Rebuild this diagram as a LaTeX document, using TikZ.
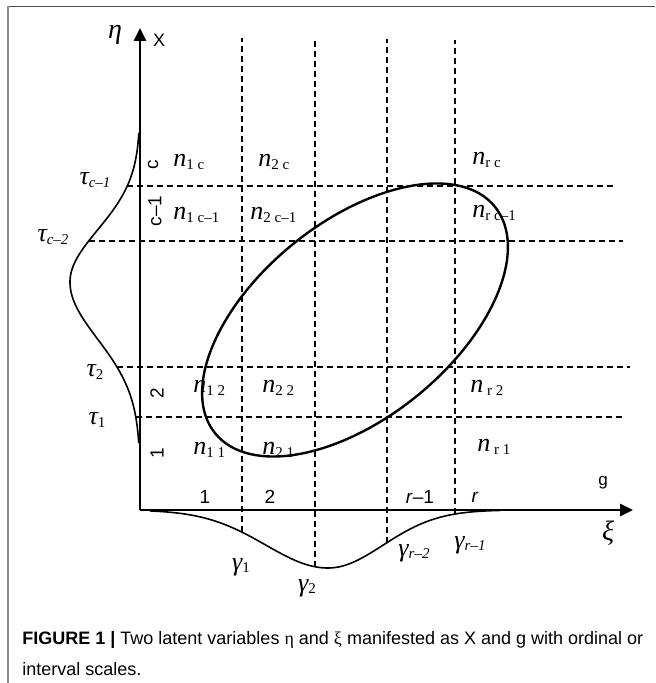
\documentclass[tikz,border=0pt]{standalone}
\usepackage{fontspec}
\setmainfont{Liberation Sans}
\newfontfamily\tms{Liberation Serif}
\usetikzlibrary{arrows.meta}

% italic serif symbol with a small lowered index
\newcommand{\idx}[2]{{\tms\itshape #1}\raisebox{-1.3pt}{\fontsize{7.5}{8}\selectfont\tms #2}}

\begin{document}
\begin{tikzpicture}[
    x=0.5pt, y=0.5pt,
    declare function={
      etaU(\t)=140-70*exp(-0.5*((\t-401)/52)*((\t-401)/52));
      etaL(\t)=140-70*exp(-0.5*((\t-401)/57)*((\t-401)/57));
      xiL(\s)=173-58*exp(-0.5*((\s-328)/62)*((\s-328)/62));
      xiR(\s)=173-58*exp(-0.5*((\s-328)/55)*((\s-328)/55));
    },
    axis/.style={line width=1.4pt, -{Triangle[length=6.5pt,width=6pt]}},
    cut/.style={line width=0.55pt, dash pattern=on 3pt off 2pt},
    dens/.style={line width=0.8pt},
    cell/.style={font=\fontsize{13}{14}\selectfont, inner sep=0pt, anchor=base west},
    thr/.style={font=\fontsize{13}{14}\selectfont, inner sep=0pt},
    catlab/.style={font=\fontsize{9.5}{11}\selectfont, inner sep=0pt},
    caption/.style={font=\fontsize{9}{11}\selectfont, inner sep=0pt, anchor=base west}
]
\useasboundingbox (0,0) rectangle (655,683);

% frame
\draw[black!70, line width=0.8pt] (8,676.5) -- (655,676.5);
\draw[black!45, line width=1pt] (7.8,0) -- (7.8,676.5);

% axes
\coordinate (O) at (140,173);
\coordinate (ytop) at (140,655);
\coordinate (xend) at (633,173);
\draw[axis] (O) -- (ytop);
\draw[axis] (O) -- (xend);

% latent densities
\draw[dens] plot[domain=550:401, samples=60, variable=\t] ({etaU(\t)}, \t)
         -- plot[domain=401:240, samples=60, variable=\t] ({etaL(\t)}, \t);
\draw[dens] plot[domain=150:328, samples=60, variable=\s] (\s, {xiL(\s)})
         -- plot[domain=328:500, samples=60, variable=\s] (\s, {xiR(\s)});

% thresholds
\coordinate (tau1) at ({etaL(266)},266);
\coordinate (tau2) at ({etaL(316)},316);
\coordinate (tauc2) at ({etaU(442)},442);
\coordinate (tauc1) at ({etaU(497)},497);
\coordinate (gam1) at (242,{xiL(242)});
\coordinate (gam2) at (315,{xiL(315)});
\coordinate (gamr2) at (387,{xiR(387)});
\coordinate (gamr1) at (455,{xiR(455)});

\draw[cut] (tau1) -- (625,266);
\draw[cut] (tau2) -- (630,316);
\draw[cut] (tauc2) -- (623,442);
\draw[cut] (tauc1) -- (617,497);
\draw[cut] (gam1) -- (242,645);
\draw[cut] (gam2) -- (315,645);
\draw[cut] (gamr2) -- (387,644);
\draw[cut] (gamr1) -- (455,643);

% joint distribution
\draw[line width=1.2pt, rotate around={39:(355,363)}] (355,363) ellipse [x radius=180, y radius=98];

% cell counts
\node[cell] (n1c) at (173,516) {\idx{n}{1 c}};
\node[cell] (n2c) at (258,516) {\idx{n}{2 c}};
\node[cell] (nrc) at (472,518) {\idx{n}{r c}};
\node[cell] (n1c1) at (173,463) {\idx{n}{1 c–1}};
\node[cell] (n2c1) at (250,463) {\idx{n}{2 c–1}};
\node[cell] (nrc1) at (472,465) {\idx{n}{r c–1}};
\node[cell] (n12) at (193,290) {\idx{n}{1 2}};
\node[cell] (n22) at (262,290) {\idx{n}{2 2}};
\node[cell] (nr2) at (470,290) {\idx{n}{ r 2}};
\node[cell] (n11) at (193,228) {\idx{n}{1 1}};
\node[cell] (n21) at (262,228) {\idx{n}{2 1}};
\node[cell] (nr1) at (477,231) {\idx{n}{ r 1}};

% threshold labels
\node[thr] (ltauc1) at (95,503) {\idx{τ}{\itshape c–1}};
\node[thr] (ltauc2) at (53,446) {\idx{τ}{\itshape c–2}};
\node[thr] (ltau2) at (95,311) {\idx{τ}{2}};
\node[thr] (ltau1) at (97,263) {\idx{τ}{1}};
\node[thr] (lgam1) at (241,116) {\idx{γ}{1}};
\node[thr] (lgam2) at (307,95) {\idx{γ}{2}};
\node[thr] (lgamr2) at (414,130) {\idx{γ}{\itshape r–2}};
\node[thr] (lgamr1) at (470,138) {\idx{γ}{\itshape r–1}};

% categories
\node[catlab, rotate=90] (rowc) at (153,518) {c};
\node[catlab, rotate=90] (rowc1) at (155,472) {c–1};
\node[catlab, rotate=90] (row2) at (157,290) {2};
\node[catlab, rotate=90] (row1) at (157,230) {1};
\node[catlab] (col1) at (205,186) {1};
\node[catlab] (col2) at (270,186) {2};
\node[catlab] (colr1) at (420,186) {\textit{r}–1};
\node[catlab] (colr) at (475,186) {\textit{r}};

% axis names
\node[font=\fontsize{14}{16}\selectfont\tms\itshape] (eta) at (115,648) {η};
\node[font=\fontsize{9}{10}\selectfont] (X) at (159,643) {X};
\node[font=\fontsize{14}{16}\selectfont\tms\itshape] (xi) at (608,150) {ξ};
\node[font=\fontsize{8.5}{10}\selectfont] (g) at (603,200) {g};

% caption
\node[caption] (cap1) at (22,38) {\textbf{FIGURE 1 |} Two latent variables {\tms η} and {\tms ξ} manifested as X and g with ordinal or};
\node[caption] (cap2) at (22,8) {interval scales.};
\end{tikzpicture}
\end{document}
